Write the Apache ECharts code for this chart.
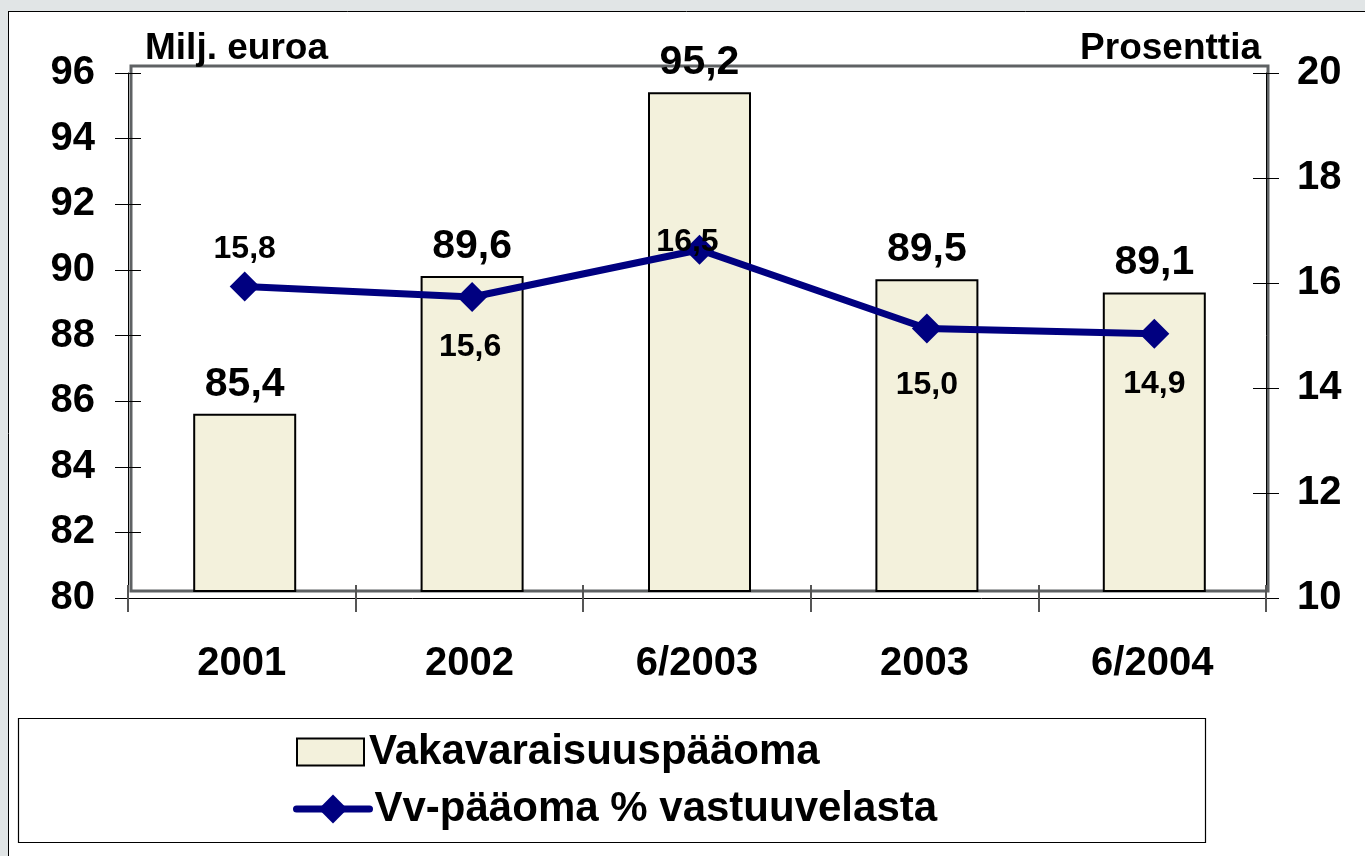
<!DOCTYPE html>
<html lang="fi">
<head>
<meta charset="UTF-8">
<title>Vakavaraisuuspääoma</title>
<script src="https://cdn.jsdelivr.net/npm/echarts@6/dist/echarts.min.js"></script>
<style>
  html, body { margin: 0; padding: 0; background: #fff; }
  #chart { width: 1365px; height: 856px; }
</style>
</head>
<body>
<div id="chart"></div>
<script>
// data
var categories = ['2001', '2002', '6/2003', '2003', '6/2004'];
var capital = [85.4, 89.6, 95.2, 89.5, 89.1];      // Milj. euroa
var capitalPct = [15.8, 15.6, 16.5, 15.0, 14.9];   // Prosenttia
var leftTicks = [80, 96, 2];
var rightTicks = [10, 20, 2];

// label placement for the line points (style only)
var pctLabelOffsets = [[0, -37], [-2, 50], [-12, -8], [0, 57], [0, 50]];

var FONT = 'Liberation Sans, Arial, sans-serif';
function fi(v) { return v.toFixed(1).replace('.', ','); }

var chart = echarts.init(document.getElementById('chart'));

var tickStyle = { color: '#000', width: 1 };
var xTickStyle = { color: '#555', width: 2 };
var labelStyle = { color: '#000', fontFamily: FONT, fontWeight: 'bold', fontSize: 40 };
var legendText = { color: '#000', fontFamily: FONT, fontWeight: 'bold', fontSize: 42 };

var option = {
  animation: false,
  backgroundColor: '#fff',
  grid: [
    // series area (the grey frame)
    { left: 131, top: 66, width: 1137, height: 525, show: true,
      borderColor: '#5f6264', borderWidth: 3, backgroundColor: 'transparent' },
    // axis lines, drawn a little offset as in the original
    { left: 128, top: 73, width: 1138, height: 525 }
  ],
  xAxis: [
    { gridIndex: 0, type: 'category', data: categories, show: false },
    { gridIndex: 1, type: 'category', position: 'bottom', data: categories, boundaryGap: true,
      axisLine: { show: true, lineStyle: tickStyle },
      axisTick: { show: true, interval: 0, alignWithLabel: false, length: 14, lineStyle: xTickStyle },
      axisLabel: Object.assign({ margin: 46, interval: 0 }, labelStyle) },
    { gridIndex: 1, type: 'category', position: 'bottom', offset: 0, data: categories, boundaryGap: true,
      axisLine: { show: false },
      axisTick: { show: true, interval: 0, alignWithLabel: false, inside: true, length: 13, lineStyle: xTickStyle },
      axisLabel: { show: false } }
  ],
  yAxis: [
    { gridIndex: 0, type: 'value', position: 'left', min: leftTicks[0], max: leftTicks[1], interval: leftTicks[2], show: false },
    { gridIndex: 0, type: 'value', position: 'right', min: rightTicks[0], max: rightTicks[1], interval: rightTicks[2], show: false },
    { gridIndex: 1, type: 'value', position: 'left', min: leftTicks[0], max: leftTicks[1], interval: leftTicks[2],
      axisLine: { show: true, lineStyle: tickStyle },
      axisTick: { show: true, length: 13, lineStyle: tickStyle },
      splitLine: { show: false },
      axisLabel: Object.assign({ margin: 33 }, labelStyle) },
    { gridIndex: 1, type: 'value', position: 'right', min: rightTicks[0], max: rightTicks[1], interval: rightTicks[2],
      axisLine: { show: true, lineStyle: tickStyle },
      axisTick: { show: true, length: 13, lineStyle: tickStyle },
      splitLine: { show: false },
      axisLabel: Object.assign({ margin: 31 }, labelStyle) },
    { gridIndex: 1, type: 'value', position: 'left', offset: 0, min: leftTicks[0], max: leftTicks[1], interval: leftTicks[2],
      axisLine: { show: false },
      axisTick: { show: true, inside: true, length: 13, lineStyle: tickStyle },
      splitLine: { show: false }, axisLabel: { show: false } },
    { gridIndex: 1, type: 'value', position: 'right', offset: 0, min: rightTicks[0], max: rightTicks[1], interval: rightTicks[2],
      axisLine: { show: false },
      axisTick: { show: true, inside: true, length: 13, lineStyle: tickStyle },
      splitLine: { show: false }, axisLabel: { show: false } }
  ],
  legend: [
    {
      orient: 'vertical', left: 296, top: 731, padding: 0,
      itemWidth: 67, itemHeight: 27, icon: 'rect',
      textStyle: legendText,
      data: ['Vakavaraisuuspääoma']
    },
    {
      orient: 'vertical', left: 293, top: 788, padding: 0,
      itemWidth: 73, itemHeight: 36,
      lineStyle: { width: 7, cap: 'round' },
      textStyle: legendText,
      data: ['Vv-pääoma % vastuuvelasta']
    }
  ],
  graphic: [
    // grey surround of the original slide
    { type: 'rect', shape: { x: 0, y: 0, width: 1365, height: 11 }, style: { fill: '#e1e5e6' }, silent: true },
    { type: 'rect', shape: { x: 0, y: 0, width: 8, height: 856 }, style: { fill: '#e1e5e6' }, silent: true },
    { type: 'line', shape: { x1: 8, y1: 11.5, x2: 1365, y2: 11.5 }, style: { stroke: '#000', lineWidth: 1 } },
    { type: 'line', shape: { x1: 8.5, y1: 11, x2: 8.5, y2: 856 }, style: { stroke: '#000', lineWidth: 1 } },
    // legend box
    { type: 'rect', z: 1, shape: { x: 18.5, y: 718.5, width: 1187, height: 124 },
      style: { fill: '#fff', stroke: '#000', lineWidth: 1.2 } },
    { type: 'text', left: 145, top: 30,
      style: { text: 'Milj. euroa', fill: '#000', font: 'bold 37px ' + FONT } },
    { type: 'text', right: 104, top: 30,
      style: { text: 'Prosenttia', fill: '#000', font: 'bold 37px ' + FONT } }
  ],
  series: [
    {
      name: 'Vakavaraisuuspääoma',
      type: 'bar',
      xAxisIndex: 0, yAxisIndex: 0,
      barWidth: 103,
      data: capital,
      itemStyle: { color: '#f3f1dc', borderColor: '#000', borderWidth: 2 },
      label: {
        show: true, position: 'top', distance: 9,
        color: '#000', fontFamily: FONT, fontWeight: 'bold', fontSize: 41,
        formatter: function (p) { return fi(p.value); }
      },
      z: 2
    },
    {
      name: 'Vv-pääoma % vastuuvelasta',
      type: 'line',
      xAxisIndex: 0, yAxisIndex: 1,
      data: capitalPct.map(function (v, i) {
        return { value: v, label: { offset: pctLabelOffsets[i] } };
      }),
      symbol: 'diamond',
      symbolSize: 30,
      lineStyle: { color: '#000080', width: 7 },
      itemStyle: { color: '#000080' },
      label: {
        show: true, position: 'inside',
        color: '#000', fontFamily: FONT, fontWeight: 'bold', fontSize: 32,
        formatter: function (p) { return fi(p.value); }
      },
      z: 3
    }
  ]
};

chart.setOption(option);
</script>
</body>
</html>
